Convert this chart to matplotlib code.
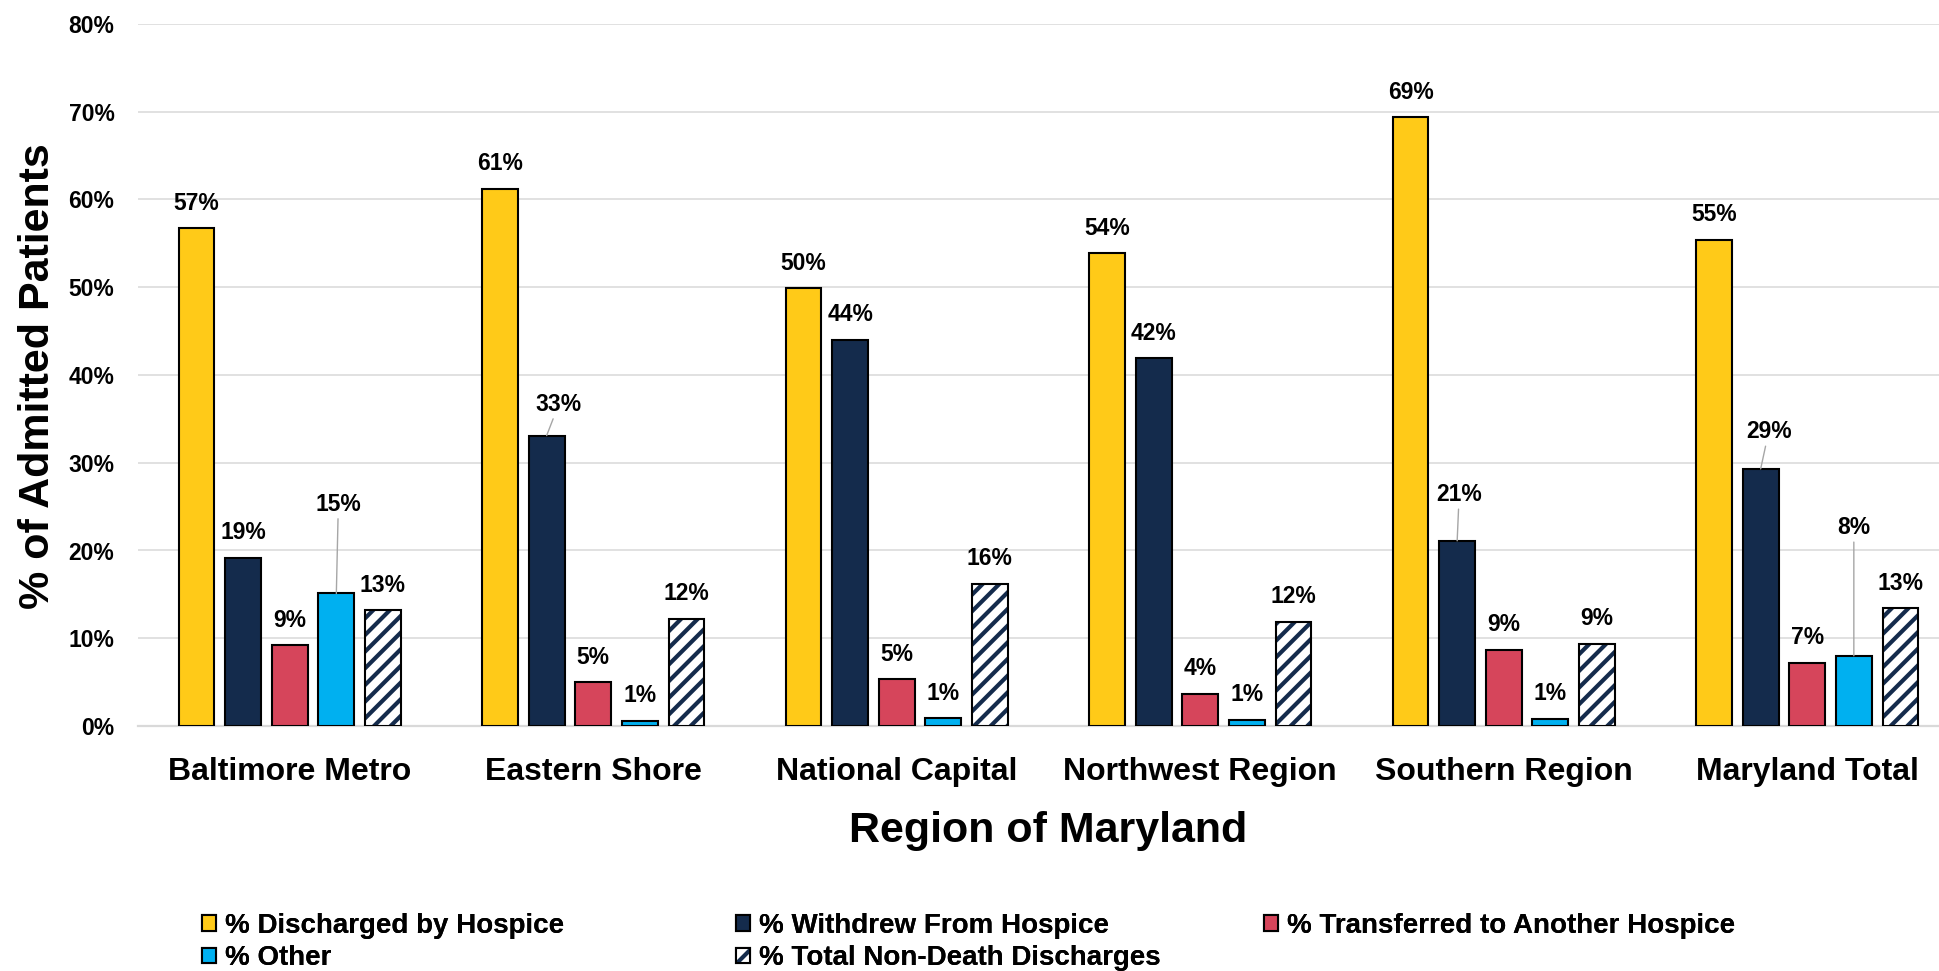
import matplotlib
matplotlib.use("Agg")
import matplotlib.pyplot as plt
from matplotlib.patches import Patch
from matplotlib.ticker import PercentFormatter

# ---------------- data ----------------
regions = ["Baltimore Metro", "Eastern Shore", "National Capital",
           "Northwest Region", "Southern Region", "Maryland Total"]
series_names = ["% Discharged by Hospice", "% Withdrew From Hospice",
                "% Transferred to Another Hospice", "% Other",
                "% Total Non-Death Discharges"]
discharged = [56.7, 61.2, 49.9, 53.9, 69.4, 55.4]
withdrew = [19.2, 33.1, 44.0, 41.9, 21.1, 29.3]
transferred = [9.2, 5.0, 5.3, 3.7, 8.7, 7.2]
other = [15.1, 0.6, 0.9, 0.7, 0.8, 8.0]
non_death = [13.2, 12.2, 16.2, 11.9, 9.4, 13.4]
yticks = [0, 10, 20, 30, 40, 50, 60, 70, 80]

series = [discharged, withdrew, transferred, other, non_death]

# ---------------- style ----------------
FONT = ["Liberation Sans", "DejaVu Sans"]
plt.rcParams["font.family"] = FONT
plt.rcParams["font.weight"] = "bold"
plt.rcParams["hatch.linewidth"] = 3.0

colors = ["#FFCA18", "#142B4C", "#D6455B", "#00B0F0", "white"]
hatch_color = "#142B4C"
grid_color = "#D9D9D9"

W, H = 1939, 971
fig = plt.figure(figsize=(W / 100, H / 100), dpi=100)
ax = fig.add_axes([138 / W, (H - 726) / H, 6 * 303.5 / W, (726 - 24) / H])

pitch = 0.1535
bw = 0.118
x = list(range(len(regions)))

# label offsets (pixels) for leader-line labels: (series, region) -> (dx, dy)
leader = {(3, 0): (2, 89), (1, 1): (12, 31), (1, 4): (2, 46),
          (1, 5): (8, 37), (3, 5): (0, 128)}

for s, vals in enumerate(series):
    xs = [xi + (s - 2) * pitch for xi in x]
    if s == 4:
        ax.bar(xs, vals, bw, color="white", edgecolor=hatch_color, hatch="//",
               linewidth=0, zorder=3)
        ax.bar(xs, vals, bw, facecolor="none", edgecolor="black",
               linewidth=1.5, zorder=4)
    else:
        ax.bar(xs, vals, bw, color=colors[s], edgecolor="black",
               linewidth=1.5, zorder=3)
    for r, (xx, v) in enumerate(zip(xs, vals)):
        lab = f"{round(v)}%"
        if (s, r) in leader:
            dx, dy = leader[(s, r)]
            ax.annotate(lab, xy=(xx, v), xytext=(dx * 0.72, dy * 0.72),
                        textcoords="offset points", ha="center", va="center",
                        fontsize=16.5, fontweight="bold", color="black",
                        arrowprops=dict(arrowstyle="-", color="#A6A6A6",
                                        lw=1.0, shrinkA=0, shrinkB=0),
                        zorder=6)
        else:
            ax.annotate(lab, xy=(xx, v), xytext=(0, 25 * 0.72),
                        textcoords="offset points", ha="center", va="center",
                        fontsize=16.5, fontweight="bold", color="black",
                        zorder=6)

ax.set_xlim(-0.5, 5.5)
ax.set_ylim(0, 80)
ax.set_yticks(yticks)
ax.yaxis.set_major_formatter(PercentFormatter(xmax=100, decimals=0))
ax.set_xticks(x)
ax.set_xticklabels(regions)
ax.tick_params(axis="y", length=0, pad=17, labelsize=16.5)
ax.tick_params(axis="x", length=0, pad=22, labelsize=23)
for lab in ax.get_xticklabels() + ax.get_yticklabels():
    lab.set_fontweight("bold")

ax.grid(axis="y", color=grid_color, linewidth=1.1, zorder=0)
ax.set_axisbelow(True)
for sp in ["left", "right", "top"]:
    ax.spines[sp].set_visible(False)
ax.spines["bottom"].set_color(grid_color)
ax.spines["bottom"].set_linewidth(1.6)
ax.spines["bottom"].set_zorder(2)

fig.text(1048.5 / W, 1 - 831 / H, "Region of Maryland", ha="center",
         va="center", fontsize=31, fontweight="bold")
fig.text(38.5 / W, 1 - 376 / H, "% of Admitted Patients", ha="center",
         va="center", rotation=90, fontsize=31, fontweight="bold")

# ---------------- legend ----------------
handles = [Patch(facecolor=colors[i], edgecolor="black", linewidth=1.5)
           for i in range(4)]
handles.append((Patch(facecolor="white", edgecolor=hatch_color, hatch="//",
                      linewidth=0),
                Patch(facecolor="none", edgecolor="black", linewidth=1.5)))

leg_fs = 20
cols = [([0, 3], 202), ([1, 4], 736), ([2], 1264)]
for idxs, xpx in cols:
    lg = fig.legend([handles[i] for i in idxs], [series_names[i] for i in idxs],
                    loc="upper left", bbox_to_anchor=(xpx / W, 1 - 913 / H),
                    frameon=False, borderpad=0, borderaxespad=0,
                    handlelength=0.5, handleheight=0.48, handletextpad=0.33,
                    labelspacing=0.22, prop=dict(family=FONT, weight="bold",
                                                 size=leg_fs))
    fig.add_artist(lg)

fig.savefig("out.png", dpi=100)
